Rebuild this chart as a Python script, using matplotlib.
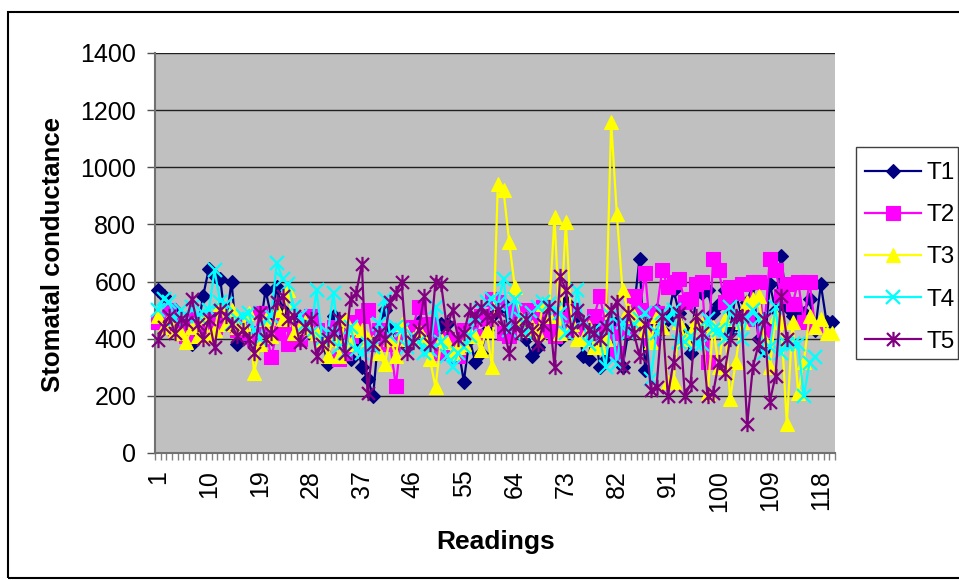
import matplotlib
matplotlib.use("Agg")
import matplotlib.pyplot as plt
from matplotlib.patches import Rectangle
from matplotlib.path import Path

plt.rcParams['font.family'] = ['Liberation Sans', 'DejaVu Sans']

t1 = [570,550,480,500,440,420,380,430,550,645,
      620,610,450,600,380,420,400,380,430,570,
      480,580,500,450,430,470,420,480,430,400,
      310,480,430,350,330,400,300,260,200,430,
      500,430,380,400,370,430,460,420,440,400,
      450,450,360,370,250,400,320,350,430,480,
      500,520,430,450,480,400,340,370,500,450,
      460,400,530,490,480,340,330,450,300,330,
      350,460,300,420,500,680,290,460,500,430,
      470,570,490,430,350,560,560,570,490,520,
      570,430,560,480,530,590,400,360,590,500,
      690,510,480,500,490,540,430,590,460,460]
t2 = [460,470,500,430,450,410,470,440,430,470,
      440,450,470,460,430,450,420,400,490,440,
      335,420,450,380,430,400,470,480,430,400,
      400,440,330,350,410,460,480,500,380,430,
      390,380,235,420,430,440,510,440,450,400,
      350,400,380,340,430,420,410,480,470,540,
      530,420,410,500,460,500,490,480,510,430,
      410,470,430,500,430,420,400,480,550,450,
      420,350,440,430,550,500,630,400,490,640,
      580,600,610,530,540,590,600,320,680,640,
      530,580,560,590,470,600,600,430,680,640,
      550,590,520,600,460,600,440]
t3 = [480,440,470,430,420,390,440,410,480,410,
      430,520,450,500,440,440,490,280,380,470,
      410,500,470,570,420,440,460,430,420,400,
      340,400,340,470,380,440,430,400,390,350,
      310,400,340,450,400,400,430,400,330,230,
      400,390,350,370,380,420,410,360,430,300,
      940,920,740,580,470,430,440,420,520,480,
      825,420,810,450,400,400,440,370,370,400,
      1160,835,570,500,480,460,430,390,480,440,
      250,250,460,400,420,470,450,210,440,300,
      470,190,320,460,530,540,550,400,300,480,
      460,100,460,210,320,480,440,470,420,420]
t4 = [500,540,530,470,500,480,510,480,490,500,
      640,530,520,450,470,480,490,430,400,470,
      480,665,610,590,510,480,450,420,570,400,
      420,560,370,350,440,360,350,380,370,450,
      540,410,440,430,370,410,390,350,360,510,
      390,340,300,350,370,410,480,500,530,540,
      520,610,430,540,470,420,490,510,530,520,
      500,490,420,430,570,460,380,430,400,300,
      480,310,460,420,450,470,490,260,420,490,
      470,500,390,390,410,380,380,470,430,430,
      400,510,470,400,470,500,470,350,370,510,
      350,380,380,380,200,315,336]
t5 = [395,440,480,420,470,460,540,450,400,470,
      370,500,480,450,410,430,400,350,490,400,
      420,530,550,470,480,390,440,470,340,380,
      400,420,470,350,540,560,660,210,380,420,
      400,530,560,600,350,390,430,550,380,600,
      590,440,500,400,420,500,470,510,480,470,
      500,440,350,450,420,470,430,380,450,510,
      300,620,570,430,500,460,430,420,400,440,
      500,530,300,490,420,340,450,220,230,480,
      200,320,490,200,240,480,420,200,210,320,
      280,400,480,480,100,300,380,470,180,270,
      550,400]

star = Path([(-0.85, -0.85), (0.85, 0.85), (-0.85, 0.85), (0.85, -0.85), (0, -1), (0, 1)],
            [Path.MOVETO, Path.LINETO, Path.MOVETO, Path.LINETO, Path.MOVETO, Path.LINETO])

series_names = ['T1', 'T2', 'T3', 'T4', 'T5']
series_values = [t1, t2, t3, t4, t5]
series_colors = ['#000080', '#FF00FF', '#FFFF00', '#00FFFF', '#800080']
series_markers = ['D', 's', '^', 'x', star]
series_sizes = [7, 9.5, 10.5, 10, 11]
y_ticks = [0, 200, 400, 600, 800, 1000, 1200, 1400]
x_ticks = [1, 10, 19, 28, 37, 46, 55, 64, 73, 82, 91, 100, 109, 118]

W, H = 959, 580
fig = plt.figure(figsize=(W / 100, H / 100), dpi=100, facecolor='white')
fig.add_artist(Rectangle((8 / W, 1 - 578 / H), 960 / W, 566 / H, transform=fig.transFigure,
                         fill=False, edgecolor='black', linewidth=1.5, clip_on=False))
fig.add_artist(Rectangle((856 / W, 1 - 359 / H), 102 / W, 212 / H, transform=fig.transFigure,
                         fill=False, edgecolor='#404040', linewidth=1.0))
ax = fig.add_axes([155 / W, 1 - 453 / H, 680 / W, 400 / H], facecolor='#C0C0C0')
ax.set_xlim(0.5, 120.5)
ax.set_ylim(0, 1400)

for name, vals, c, m, s in zip(series_names, series_values, series_colors, series_markers, series_sizes):
    thin = m == 'x' or m is star
    ax.plot(range(1, len(vals) + 1), vals, color=c, lw=1.6, marker=m, ms=s,
            mfc='none' if m is star else c, mec=c, mew=1.6 if thin else 0.8,
            label=name, clip_on=False, zorder=3)

ax.set_axisbelow(True)
ax.yaxis.grid(True, color='#202020', lw=1.0)
ax.set_yticks(y_ticks)
ax.set_xticks(x_ticks)
ax.set_xticks([i + 0.5 for i in range(0, 121)], minor=True)
ax.tick_params(axis='x', which='major', length=0, labelsize=18, labelrotation=90, pad=12)
ax.tick_params(axis='x', which='minor', length=5, width=1, color='#808080')
ax.tick_params(axis='y', length=5.5, width=1, color='#505050', labelsize=18, pad=8)
for sp in ['top', 'right']:
    ax.spines[sp].set_visible(False)
for sp in ['left', 'bottom']:
    ax.spines[sp].set_color('#707070')
    ax.spines[sp].set_linewidth(1.5)

fig.text(53 / W, 1 - 255 / H, 'Stomatal conductance', rotation=90, ha='center', va='center',
         fontsize=18.5, fontweight='bold')
fig.text(496 / W, 1 - 542 / H, 'Readings', ha='center', va='center',
         fontsize=19, fontweight='bold')

leg = ax.legend(loc='upper left', bbox_to_anchor=(865 / W, 1 - 162 / H), bbox_transform=fig.transFigure,
                borderaxespad=0, fontsize=17.5, frameon=False, handlelength=2.3, handletextpad=0.22,
                labelspacing=0.83, borderpad=0)
leg.set_zorder(5)

fig.savefig('out.png', dpi=100)
